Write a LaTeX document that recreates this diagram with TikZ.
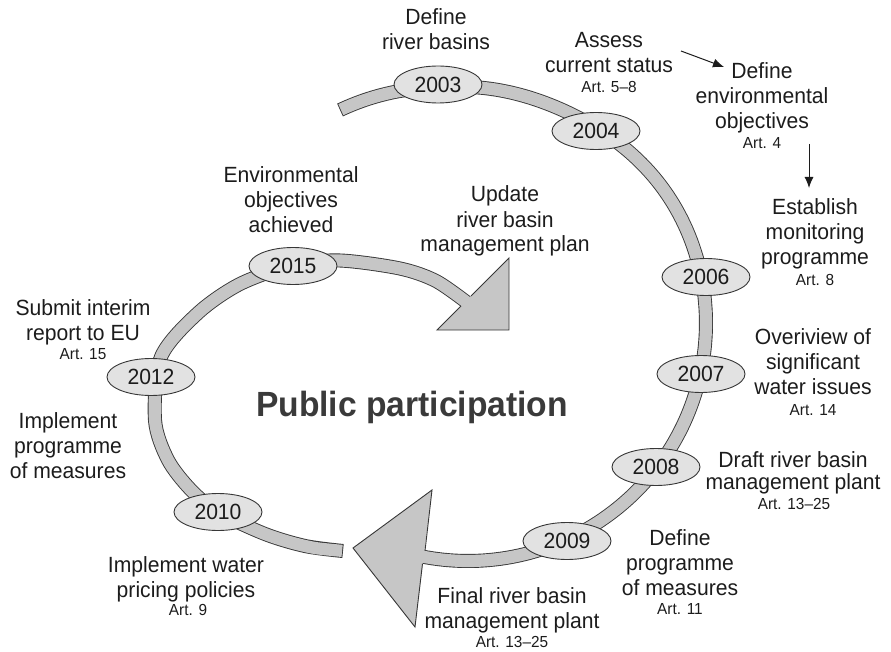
\documentclass[tikz,border=0pt]{standalone}
\usepackage{fontspec}
\setmainfont{Liberation Sans}[FakeStretch=0.96]
\usetikzlibrary{shapes.geometric,arrows.meta}
\definecolor{bandfill}{RGB}{198,198,198}
\definecolor{ovalfill}{RGB}{226,226,226}
\definecolor{edge}{RGB}{55,55,55}
\definecolor{ink}{RGB}{28,28,28}
\definecolor{titleink}{RGB}{58,58,58}
\newcommand\lnstrut{\rule[-5.5pt]{0pt}{22pt}}
\begin{document}
\begin{tikzpicture}[x=1pt,y=-1pt,
  lbl/.style={align=center,text=ink,font=\fontsize{22}{25}\selectfont,inner sep=0pt},
  lbltight/.style={align=center,text=ink,font=\fontsize{22}{22}\selectfont,inner sep=0pt},
  art/.style={anchor=base,text=ink,font=\fontsize{16}{18}\selectfont,inner sep=0pt},
  yearoval/.style={ellipse,draw=edge,fill=ovalfill,line width=0.9pt,minimum width=88pt,minimum height=37pt,inner sep=0pt,text=ink,font=\fontsize{22}{24}\selectfont},
  bandout/.style={draw=edge,line width=14pt},
  bandin/.style={draw=bandfill,line width=12.2pt},
  headfill/.style={fill=bandfill},
  headedge/.style={draw=edge,line width=0.9pt,line join=miter},
  link/.style={draw=ink,line width=1pt,-{Latex[length=11pt,width=9pt]}}
]
\useasboundingbox (0,0) rectangle (891,652);

% outer band (spiral arc)
\draw[bandout] plot[domain=-121:101.5,samples=160] ({468+(238+0.434*max(0,-96.8-(\x))-5*exp(-((\x+65)/25)^2))*cos(\x)}, {323+(238+0.434*max(0,-96.8-(\x))-5*exp(-((\x+65)/25)^2))*sin(\x)});
\draw[bandin,shorten <=0.9pt] plot[domain=-121:101.5,samples=160] ({468+(238+0.434*max(0,-96.8-(\x))-5*exp(-((\x+65)/25)^2))*cos(\x)}, {323+(238+0.434*max(0,-96.8-(\x))-5*exp(-((\x+65)/25)^2))*sin(\x)});
\fill[headfill] (353,548) -- (432,490) -- (415,627) -- cycle;
\draw[headedge] (425.1,550) -- (432,490) -- (353,548) -- (415,627) -- (422.5,563.7);

% inner band
\draw[bandout] plot[smooth] coordinates {(343,551) (305,546) (265,534) (218,512) (191,490) (168,460) (155,420) (161,357) (198,313) (240,284) (293,265) (340,260.5) (400,268.5) (436,281) (469,304)};
\draw[bandin,shorten <=0.9pt] plot[smooth] coordinates {(343,551) (305,546) (265,534) (218,512) (191,490) (168,460) (155,420) (161,357) (198,313) (240,284) (293,265) (340,260.5) (400,268.5) (436,281) (469,304)};
\fill[headfill] (437,330) -- (509,258) -- (509,330) -- cycle;
\draw[headedge] (471,296) -- (509,258) -- (509,330) -- (437,330) -- (461,306);

% year ovals
\node[yearoval] (y2003) at (438,84.5) {2003};
\node[yearoval] (y2004) at (596,131) {2004};
\node[yearoval] (y2006) at (706,277) {2006};
\node[yearoval] (y2007) at (701,374) {2007};
\node[yearoval] (y2008) at (656,467) {2008};
\node[yearoval] (y2009) at (567,541) {2009};
\node[yearoval] (y2010) at (218,512) {2010};
\node[yearoval] (y2012) at (151,377) {2012};
\node[yearoval] (y2015) at (293,266) {2015};

% labels
\node[lbl] (tdefine) at (436,32) {\lnstrut Define\\\lnstrut river basins};
\node[lbl] (tassess) at (609,54.5) {\lnstrut Assess\\\lnstrut current status};
\node[art] (aassess) at (609,93) {Art. 5–8};
\node[lbl] (tenv) at (762,98.5) {\lnstrut Define\\\lnstrut environmental\\\lnstrut objectives};
\node[art] (aenv) at (762,149) {Art. 4};
\node[lbl] (tmon) at (815,234.5) {\lnstrut Establish\\\lnstrut monitoring\\\lnstrut programme};
\node[art] (amon) at (815,285) {Art. 8};
\node[lbl] (tover) at (813,364) {\lnstrut Overiview of\\\lnstrut significant\\\lnstrut water issues};
\node[art] (aover) at (813,415) {Art. 14};
\node[lbltight] (tdraft) at (793,472.5) {\lnstrut Draft river basin\\\lnstrut management plant};
\node[art] (adraft) at (794,509) {Art. 13–25};
\node[lbl] (tprog) at (680,564.5) {\lnstrut Define\\\lnstrut programme\\\lnstrut of measures};
\node[art] (aprog) at (680,614) {Art. 11};
\node[lbl] (tfinal) at (512,610) {\lnstrut Final river basin\\\lnstrut management plant};
\node[art] (afinal) at (512,647) {Art. 13–25};
\node[lbl] (tprice) at (186,579) {\lnstrut Implement water\\\lnstrut pricing policies};
\node[art] (aprice) at (188,615) {Art. 9};
\node[lbl] (timpl) at (68,447.5) {\lnstrut Implement\\\lnstrut programme\\\lnstrut of measures};
\node[lbl] (tsubmit) at (83,322) {\lnstrut Submit interim\\\lnstrut report to EU};
\node[art] (asubmit) at (83,359) {Art. 15};
\node[lbl] (tach) at (291,202.5) {\lnstrut Environmental\\\lnstrut objectives\\\lnstrut achieved};
\node[lbl] (tupdate) at (505,221.5) {\lnstrut Update\\\lnstrut river basin\\\lnstrut management plan};
\node[anchor=base,text=titleink,font=\bfseries\fontsize{35}{40}\selectfont,inner sep=0pt] (title) at (412,416) {Public participation};

% small arrows
\coordinate (s1) at (681,51);
\coordinate (s2) at (724,67);
\coordinate (s3) at (809,144);
\coordinate (s4) at (809,188);
\draw[link] (s1) -- (s2);
\draw[link] (s3) -- (s4);
\end{tikzpicture}
\end{document}
